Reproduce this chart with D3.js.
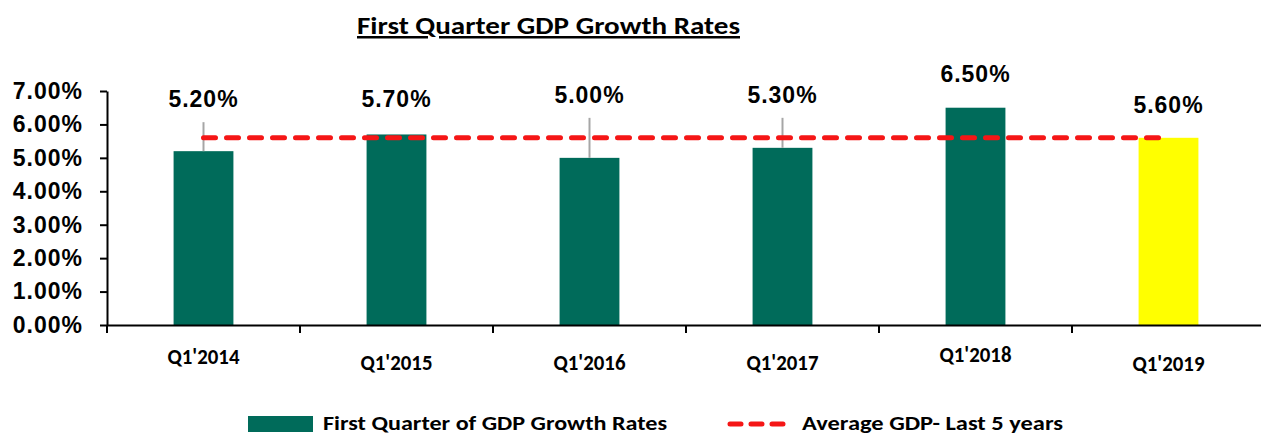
<!DOCTYPE html>
<html lang="en">
<head>
<meta charset="UTF-8">
<script src="https://d3js.org/d3.v7.min.js"></script>
<style>
    body { margin: 0; background: #fff; }
    .num { font-family: "Liberation Sans", Arial, sans-serif; font-weight: bold; }
    .cal { font-family: Carlito, Calibri, "Liberation Sans Narrow", "Noto Sans", sans-serif; font-weight: bold; }
</style>
</head>
<body>
<div id="chart"></div>
<script>
    // data
    const quarters = ["Q1'2014", "Q1'2015", "Q1'2016", "Q1'2017", "Q1'2018", "Q1'2019"];
    const growth = [5.2, 5.7, 5.0, 5.3, 6.5, 5.6];
    const averageGdp = 5.6;
    const yTicks = [0, 1, 2, 3, 4, 5, 6, 7];

    // layout tweaks copied from the excel-style label placement
    const labelLift = [44, 27, 55, 45, 26, 25];
    const xLabelBase = [364, 370, 370, 370, 362, 371];

    const W = 1261, H = 436;
    const green = "#006b5a", yellow = "#ffff00", red = "#f51616";

    const svg = d3.select("#chart").append("svg")
        .attr("width", W).attr("height", H);

    const x = d3.scaleBand().domain(quarters).range([107, 1265]).padding(0);
    const y = d3.scaleLinear().domain([0, 7]).range([325, 91]);
    const barW = x.bandwidth() * 0.31;
    const cx = q => x(q) + x.bandwidth() / 2;

    // title
    svg.append("text")
        .attr("class", "cal")
        .attr("x", 357).attr("y", 34)
        .attr("textLength", 383).attr("lengthAdjust", "spacingAndGlyphs")
        .style("font-size", "25px")
        .style("text-decoration", "underline")
        .text("First Quarter GDP Growth Rates");

    // bars
    svg.selectAll(".bar")
        .data(quarters)
        .enter().append("rect")
        .attr("class", "bar")
        .attr("x", q => cx(q) - barW / 2)
        .attr("width", barW)
        .attr("y", (q, i) => y(growth[i]))
        .attr("height", (q, i) => y(0) - y(growth[i]))
        .attr("fill", (q, i) => i === quarters.length - 1 ? yellow : green);

    // leader lines for labels sitting far above their bar
    quarters.forEach((q, i) => {
        const base = y(growth[i]) - labelLift[i];
        if (labelLift[i] > 40) {
            svg.append("line")
                .attr("x1", cx(q)).attr("x2", cx(q))
                .attr("y1", base + 15).attr("y2", y(growth[i]))
                .attr("stroke", "#a6a6a6").attr("stroke-width", 2);
        }
    });

    // average line
    svg.append("line")
        .attr("x1", cx(quarters[0])).attr("x2", cx(quarters[quarters.length - 1]))
        .attr("y1", y(averageGdp)).attr("y2", y(averageGdp))
        .attr("stroke", red).attr("stroke-width", 5)
        .attr("stroke-linecap", "round")
        .attr("stroke-dasharray", "12,11");

    // value labels
    svg.selectAll(".val")
        .data(quarters)
        .enter().append("text")
        .attr("class", "val num")
        .attr("x", q => cx(q))
        .attr("y", (q, i) => y(growth[i]) - labelLift[i])
        .attr("text-anchor", "middle")
        .style("font-size", "23px")
        .style("letter-spacing", "1px")
        .text((q, i) => growth[i].toFixed(2) + "%");

    // y axis
    const yAxis = svg.append("g")
        .attr("transform", "translate(107,0)")
        .call(d3.axisLeft(y).tickValues(yTicks).tickSize(7).tickSizeOuter(0).tickPadding(17)
            .tickFormat(d => d.toFixed(2) + "%"));
    yAxis.select(".domain").attr("stroke", "#000").attr("stroke-width", 2);
    yAxis.selectAll(".tick line").attr("stroke", "#000").attr("stroke-width", 2);
    yAxis.selectAll(".tick text")
        .attr("class", "num")
        .attr("fill", "#000")
        .style("font-size", "23px")
        .style("letter-spacing", "1px");

    // x axis
    const xAxis = svg.append("g")
        .attr("transform", `translate(0,${y(0)})`)
        .call(d3.axisBottom(x).tickSize(0).tickSizeOuter(0).tickFormat(""));
    xAxis.select(".domain").attr("stroke", "#000").attr("stroke-width", 2);
    xAxis.selectAll(".bound")
        .data(quarters)
        .enter().append("line")
        .attr("x1", q => x(q)).attr("x2", q => x(q))
        .attr("y1", 0).attr("y2", 8)
        .attr("stroke", "#000").attr("stroke-width", 2);

    svg.selectAll(".xlab")
        .data(quarters)
        .enter().append("text")
        .attr("class", "xlab cal")
        .attr("x", q => cx(q))
        .attr("y", (q, i) => xLabelBase[i])
        .attr("text-anchor", "middle")
        .attr("textLength", 72).attr("lengthAdjust", "spacingAndGlyphs")
        .style("font-size", "23px")
        .text(q => q);

    // legend
    const leg = svg.append("g");
    leg.append("rect")
        .attr("x", 248).attr("y", 416).attr("width", 65).attr("height", 16)
        .attr("fill", green);
    leg.append("text")
        .attr("class", "cal")
        .attr("x", 323).attr("y", 430)
        .attr("textLength", 344).attr("lengthAdjust", "spacingAndGlyphs")
        .style("font-size", "20px")
        .text("First Quarter of GDP Growth Rates");
    leg.append("line")
        .attr("x1", 730).attr("x2", 788).attr("y1", 424).attr("y2", 424)
        .attr("stroke", red).attr("stroke-width", 5)
        .attr("stroke-linecap", "round")
        .attr("stroke-dasharray", "11,10");
    leg.append("text")
        .attr("class", "cal")
        .attr("x", 802).attr("y", 430)
        .attr("textLength", 261).attr("lengthAdjust", "spacingAndGlyphs")
        .style("font-size", "20px")
        .text("Average GDP- Last 5 years");
</script>
</body>
</html>
